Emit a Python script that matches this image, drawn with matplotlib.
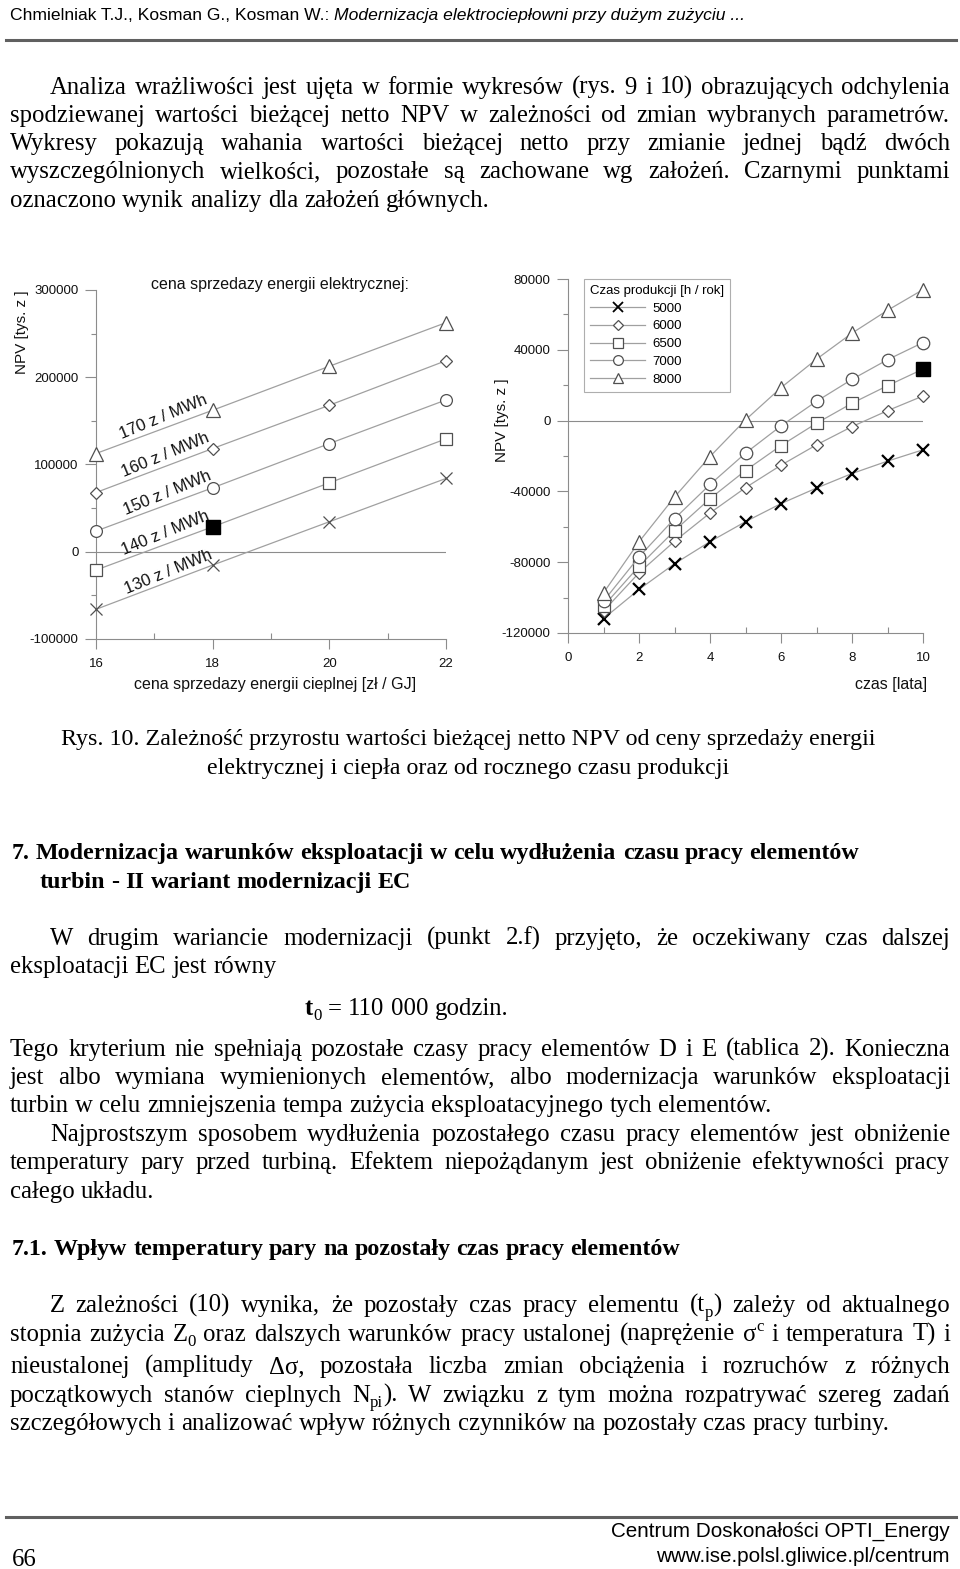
import re
import matplotlib
matplotlib.use("Agg")
import matplotlib.pyplot as plt
from matplotlib.font_manager import FontProperties
from matplotlib.lines import Line2D
from matplotlib.ticker import MultipleLocator

W, H, DPI = 960, 1569, 100

# ---------------- data: left chart (NPV vs heat price) ----------------
heat_price = [16, 18, 20, 22]
el_price_labels = ["170 z / MWh", "160 z / MWh", "150 z / MWh", "140 z / MWh", "130 z / MWh"]
npv_170 = [112600, 162200, 212600, 262600]
npv_160 = [67900, 118300, 167900, 219000]
npv_150 = [23700, 73300, 124000, 174000]
npv_140 = [-21000, 28600, 79000, 129400]
npv_130 = [-66000, -15300, 34400, 84000]
left_yticks = [-100000, 0, 100000, 200000, 300000]
left_xticks = [16, 18, 20, 22]

# ---------------- data: right chart (NPV vs time) ----------------
years = [1, 2, 3, 4, 5, 6, 7, 8, 9, 10]
prod_time_labels = ["5000", "6000", "6500", "7000", "8000"]
npv_5000 = [-111900, -95400, -80900, -68400, -57100, -46900, -38100, -29900, -22900, -16500]
npv_6000 = [-107600, -86000, -68200, -52200, -37900, -25200, -13700, -3400, 5600, 13900]
npv_6500 = [-104800, -82300, -62200, -44100, -28200, -14100, -1500, 9800, 19700, 29100]
npv_7000 = [-102000, -77000, -55400, -36100, -18400, -3000, 10900, 23300, 34400, 44100]
npv_8000 = [-97300, -68500, -43200, -20300, 400, 18600, 34700, 49400, 62300, 74000]
right_yticks = [-120000, -80000, -40000, 0, 40000, 80000]
right_xticks = [0, 2, 4, 6, 8, 10]

# ---------------- styles ----------------
SANS = "Liberation Sans"
SERIF = "Liberation Serif"
plt.rcParams["font.family"] = [SANS, "DejaVu Sans"]
AXC = "#8c8c8c"
LINEC = "#a0a0a0"
MEC = "#505050"
MS = {"^": 9.5, "D": 6.5, "o": 8.5, "s": 8.0, "x": 8.5}

fig = plt.figure(figsize=(W / DPI, H / DPI), dpi=DPI)


def add_axes_px(left, top, right, bottom):
    return fig.add_axes([left / W, 1 - bottom / H, (right - left) / W, (bottom - top) / H])


def style_axes(ax, xt, xminor, yt, yminor):
    for s in ["top", "right"]:
        ax.spines[s].set_visible(False)
    for s in ["left", "bottom"]:
        ax.spines[s].set_color(AXC)
        ax.spines[s].set_linewidth(0.8)
    ax.set_xticks(xt)
    ax.set_xticklabels([str(v) for v in xt])
    ax.set_yticks(yt)
    ax.set_yticklabels([str(v) for v in yt])
    ax.xaxis.set_minor_locator(MultipleLocator(xminor))
    ax.yaxis.set_minor_locator(MultipleLocator(yminor))
    ax.tick_params(axis="x", which="major", direction="out", length=7.5, width=0.8,
                   color=AXC, pad=6, labelsize=9.5, labelcolor="#111")
    ax.tick_params(axis="x", which="minor", direction="in", length=4, width=0.8, color=AXC)
    ax.tick_params(axis="y", which="major", direction="out", length=8, width=0.8,
                   color=AXC, pad=4.5, labelsize=9.5, labelcolor="#111")
    ax.tick_params(axis="y", which="minor", direction="out", length=3.5, width=0.8, color=AXC)
    ax.patch.set_visible(False)
    ax.axhline(0, color=AXC, lw=0.8, zorder=1)


# ---------------- left chart ----------------
axL = add_axes_px(96, 290, 446, 639)
axL.set_xlim(16, 22)
axL.set_ylim(-100000, 300000)
style_axes(axL, left_xticks, 1, left_yticks, 50000)

left_series = [npv_170, npv_160, npv_150, npv_140, npv_130]
left_markers = ["^", "D", "o", "s", "x"]
for vals, m in zip(left_series, left_markers):
    axL.plot(heat_price, vals, color=LINEC, lw=0.9, marker=m, ms=MS[m], mfc="white",
             mec=MEC, mew=0.9, clip_on=False, zorder=3)
# base case (black point): 140 zl/MWh, 18 zl/GJ
axL.plot([heat_price[1]], [npv_140[1]], marker="s", ms=9.5, mfc="black", mec="black",
         ls="none", clip_on=False, zorder=4)

label_pos = [(163, 417), (165, 455), (167, 493), (165, 533), (168, 572)]
for lab, (px, py) in zip(el_price_labels, label_pos):
    fig.text(px / W, 1 - py / H, lab, rotation=22.5, rotation_mode="anchor",
             ha="center", va="center", fontsize=12, color="#111")

fig.text(280 / W, 1 - 285 / H, "cena sprzedazy energii elektrycznej:", ha="center",
         va="center", fontsize=11.5, color="#111")
fig.text(275 / W, 1 - 685 / H, "cena sprzedazy energii cieplnej [zł / GJ]", ha="center",
         va="center", fontsize=11.5, color="#111")
fig.text(22 / W, 1 - 332 / H, "NPV [tys. z ]", rotation=90, ha="center", va="center",
         fontsize=11, color="#111")

# ---------------- right chart ----------------
axR = add_axes_px(568, 279, 923, 633)
axR.set_xlim(0, 10)
axR.set_ylim(-120000, 80000)
style_axes(axR, right_xticks, 1, right_yticks, 20000)

right_series = [npv_5000, npv_6000, npv_6500, npv_7000, npv_8000]
right_markers = ["x", "D", "s", "o", "^"]
handles = []
for vals, m in zip(right_series, right_markers):
    if m == "x":
        kw = dict(mec="black", mew=1.6, ms=9)
    else:
        kw = dict(mec=MEC, mew=0.9, ms=MS[m] + (0.5 if m in ("o", "s") else 0))
    axR.plot(years, vals, color=LINEC, lw=0.9, marker=m, mfc="white",
             clip_on=False, zorder=3, **kw)
    hk = dict(kw)
    hk["ms"] = kw["ms"] * 0.78
    if m == "x":
        hk["mew"] = 1.3
    handles.append(Line2D([], [], color=LINEC, lw=0.9, marker=m, mfc="white", **hk))
# base case (black point): 6500 h/year after 10 years
axR.plot([years[9]], [npv_6500[9]], marker="s", ms=10, mfc="black", mec="black",
         ls="none", clip_on=False, zorder=4)

leg = axR.legend(handles, prod_time_labels, title="Czas produkcji [h / rok]",
                 loc="upper left", bbox_to_anchor=(584 / W, 1 - 279 / H),
                 bbox_transform=fig.transFigure, borderaxespad=0, frameon=True,
                 fancybox=False, edgecolor="#9a9a9a", fontsize=9.5, title_fontsize=9.5,
                 handlelength=4.2, handletextpad=0.5, labelspacing=0.42, borderpad=0.45,
                 alignment="left")
leg.get_frame().set_linewidth(0.8)
leg.set_zorder(5)

fig.text(502 / W, 1 - 420 / H, "NPV [tys. z ]", rotation=90, ha="center", va="center",
         fontsize=11, color="#111")
fig.text(927 / W, 1 - 685 / H, "czas [lata]", ha="right", va="center",
         fontsize=11.5, color="#111")

# ---------------- page text ----------------
renderer = fig.canvas.get_renderer()


def fp(size, weight="normal", style="normal", family=SERIF):
    return FontProperties(family=family, size=size, weight=weight, style=style)


def tw(s, prop):
    return renderer.get_text_width_height_descent(s, prop, ismath=False)[0]


def space_w(prop):
    return tw("a a", prop) - tw("aa", prop)


TOK = re.compile(r"(_\{[^}]*\}|\^\{[^}]*\}|\*\*[^*]*\*\*)")


def parse_word(word):
    segs = []
    for part in TOK.split(word):
        if not part:
            continue
        if part.startswith("_{"):
            segs.append((part[2:-1], "sub"))
        elif part.startswith("^{"):
            segs.append((part[2:-1], "sup"))
        elif part.startswith("**"):
            segs.append((part[2:-2], "bold"))
        else:
            segs.append((part, "n"))
    return segs


def seg_prop(kind, size, weight):
    if kind in ("sub", "sup"):
        return fp(size * 0.68, weight)
    if kind == "bold":
        return fp(size, "bold")
    return fp(size, weight)


def word_width(segs, size, weight):
    return sum(tw(t, seg_prop(k, size, weight)) for t, k in segs)


def draw_word(segs, x, y, size, weight):
    px = size * DPI / 72
    for t, k in segs:
        p = seg_prop(k, size, weight)
        dy = {"sub": 0.2 * px, "sup": -0.42 * px}.get(k, 0)
        fig.text(x / W, 1 - (y + dy) / H, t, fontproperties=p, ha="left", va="baseline",
                 color="black")
        x += tw(t, p)


def draw_line(text, x0, x1, base, size, weight="normal", justify=False):
    words = [parse_word(w) for w in text.split(" ")]
    widths = [word_width(s, size, weight) for s in words]
    if justify and len(words) > 1:
        gap = (x1 - x0 - sum(widths)) / (len(words) - 1)
    else:
        gap = space_w(fp(size, weight))
    x = x0
    for s, w in zip(words, widths):
        draw_word(s, x, base, size, weight)
        x += w + gap


def natural_width(text, size, weight="normal"):
    words = [parse_word(w) for w in text.split(" ")]
    return sum(word_width(s, size, weight) for s in words) + space_w(fp(size, weight)) * (len(words) - 1)


ref_line = "szczegółowych i analizować wpływ różnych czynników na pozostały czas pracy turbiny."
BODY = 15.0 * (893 - 10) / natural_width(ref_line, 15.0)
ref_head = "7. Modernizacja warunków eksploatacji w celu wydłużenia czasu pracy elementów"
HEAD = 15.0 * (858 - 12) / natural_width(ref_head, 15.0, "bold")

OFF = 7  # baseline offset from visual line centre
body_lines = [
    ("Analiza wrażliwości jest ujęta w formie wykresów (rys. 9 i 10) obrazujących odchylenia", 50, 950, 87, True),
    ("spodziewanej wartości bieżącej netto NPV w zależności od zmian wybranych parametrów.", 10, 950, 115, True),
    ("Wykresy pokazują wahania wartości bieżącej netto przy zmianie jednej bądź dwóch", 10, 950, 143, True),
    ("wyszczególnionych wielkości, pozostałe są zachowane wg założeń. Czarnymi punktami", 10, 950, 171, True),
    ("oznaczono wynik analizy dla założeń głównych.", 10, 950, 200, False),
    ("W drugim wariancie modernizacji (punkt 2.f) przyjęto, że oczekiwany czas dalszej", 50, 950, 938, True),
    ("eksploatacji EC jest równy", 10, 950, 966, False),
    ("**t**_{0} = 110 000 godzin.", 305, 950, 1008, False),
    ("Tego kryterium nie spełniają pozostałe czasy pracy elementów D i E (tablica 2). Konieczna", 10, 950, 1049, True),
    ("jest albo wymiana wymienionych elementów, albo modernizacja warunków eksploatacji", 10, 950, 1077, True),
    ("turbin w celu zmniejszenia tempa zużycia eksploatacyjnego tych elementów.", 10, 950, 1105, False),
    ("Najprostszym sposobem wydłużenia pozostałego czasu pracy elementów jest obniżenie", 50, 950, 1134, True),
    ("temperatury pary przed turbiną. Efektem niepożądanym jest obniżenie efektywności pracy", 10, 950, 1162, True),
    ("całego układu.", 10, 950, 1191, False),
    ("Z zależności (10) wynika, że pozostały czas pracy elementu (t_{p}) zależy od aktualnego", 50, 950, 1305, True),
    ("stopnia zużycia Z_{0} oraz dalszych warunków pracy ustalonej (naprężenie σ^{c} i temperatura T) i", 10, 950, 1334, True),
    ("nieustalonej (amplitudy Δσ, pozostała liczba zmian obciążenia i rozruchów z różnych", 10, 950, 1366, True),
    ("początkowych stanów cieplnych N_{pi}). W związku z tym można rozpatrywać szereg zadań", 10, 950, 1395, True),
    (ref_line, 10, 950, 1423, False),
]
for text, x0, x1, yc, just in body_lines:
    draw_line(text, x0, x1, yc + OFF, BODY, "normal", just)

head_lines = [
    (ref_head, 12, 852),
    ("turbin - II wariant modernizacji EC", 40, 881),
    ("7.1. Wpływ temperatury pary na pozostały czas pracy elementów", 12, 1248),
]
for text, x0, yc in head_lines:
    draw_line(text, x0, 950, yc + OFF, HEAD, "bold", False)

# caption
cap1 = "Rys. 10. Zależność przyrostu wartości bieżącej netto NPV od ceny sprzedaży energii"
cap2 = "elektrycznej i ciepła oraz od rocznego czasu produkcji"
CAP = BODY * (875 - 60) / tw(cap1, fp(BODY))
fig.text(468 / W, 1 - (738 + OFF) / H, cap1, fontproperties=fp(CAP), ha="center", va="baseline")
fig.text(468 / W, 1 - (767 + OFF) / H, cap2, fontproperties=fp(CAP), ha="center", va="baseline")

# header
h1 = "Chmielniak T.J., Kosman G., Kosman W.: "
h2 = "Modernizacja elektrociepłowni przy dużym zużyciu ..."
hp1 = fp(12, family=SANS)
hp2 = fp(12, style="italic", family=SANS)
scale = (745 - 10) / (tw(h1.rstrip(), hp1) + space_w(hp1) + tw(h2, hp2))
hp1 = fp(12 * scale, family=SANS)
hp2 = fp(12 * scale, style="italic", family=SANS)
fig.text(10 / W, 1 - 20 / H, h1, fontproperties=hp1, ha="left", va="baseline")
fig.text((10 + tw(h1.rstrip(), hp1) + space_w(hp1)) / W, 1 - 20 / H, h2, fontproperties=hp2,
         ha="left", va="baseline")
fig.add_artist(Line2D([6 / W, 956 / W], [1 - 40 / H] * 2, transform=fig.transFigure,
                      color="#606060", lw=2.2))

# footer
fig.add_artist(Line2D([6 / W, 956 / W], [1 - 1517 / H] * 2, transform=fig.transFigure,
                      color="#606060", lw=2.2))
f1 = "Centrum Doskonałości OPTI_Energy"
f2 = "www.ise.polsl.gliwice.pl/centrum"
fpp = fp(12, family=SANS)
fs = 12 * (950 - 612) / tw(f1, fpp)
fig.text(950 / W, 1 - 1537 / H, f1, fontproperties=fp(fs, family=SANS), ha="right", va="baseline")
fig.text(950 / W, 1 - 1562 / H, f2, fontproperties=fp(fs, family=SANS), ha="right", va="baseline")
fig.text(12 / W, 1 - 1566 / H, "66", fontproperties=fp(BODY), ha="left", va="baseline")

fig.savefig("out.png", dpi=DPI)
